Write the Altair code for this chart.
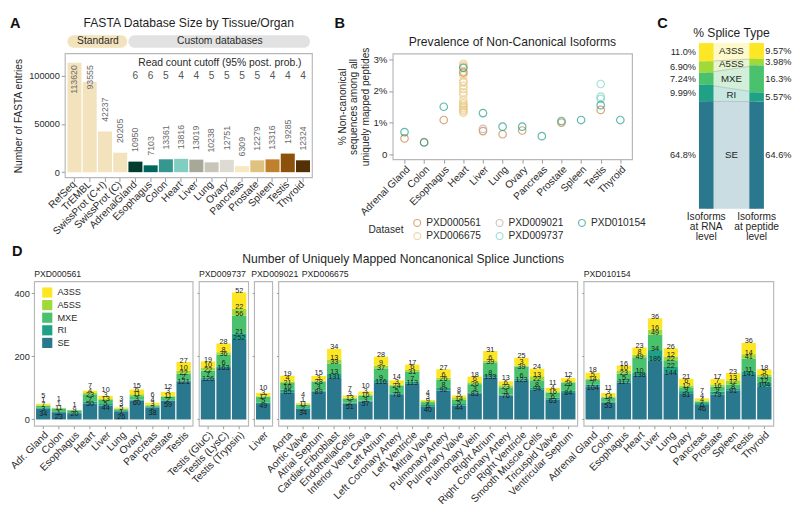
import altair as alt
import numpy as np
import pandas as pd

FONT = "Liberation Sans"
INK = "#1f1f1f"
FRAME = "#B8B8B8"

# ---------------- Panel A: FASTA database sizes ----------------
a_db = ["RefSeq", "TrEMBL", "SwissProt (C+I)", "SwissProt (C)",
        "AdrenalGland", "Esophagus", "Colon", "Heart", "Liver", "Lung",
        "Ovary", "Pancreas", "Prostate", "Spleen", "Testis", "Thyroid"]
a_entries = [113620, 93555, 42237, 20205, 10950, 7103, 13361, 13816,
             13019, 10238, 12751, 6309, 12279, 13316, 19285, 12324]
a_group = ["Standard"] * 4 + ["Custom databases"] * 12
a_cutoff = [None] * 4 + [6, 6, 5, 4, 4, 5, 5, 5, 5, 4, 4, 4]
a_colors = ["#F3E3BD", "#F3E3BD", "#F3E3BD", "#F3E3BD",
            "#003C30", "#01665E", "#35978F", "#80CDC1", "#A8A898", "#C8C6B8",
            "#DEDCD2", "#F6E8C3", "#DFC27D", "#BF812D", "#8C510A", "#543005"]
a_group_names = ["Standard", "Custom databases"]
a_group_colors = ["#F3E3BD", "#E2E2E2"]
a_title = "FASTA Database Size by Tissue/Organ"
a_cutoff_title = "Read count cutoff (95% post. prob.)"

# ---------------- Panel B: prevalence of non-canonical isoforms ----------------
b_title = "Prevalence of Non-Canonical Isoforms"
b_tissues = ["Adrenal Gland", "Colon", "Esophagus", "Heart", "Liver", "Lung",
             "Ovary", "Pancreas", "Prostate", "Spleen", "Testis", "Thyroid"]
b_datasets = ["PXD000561", "PXD006675", "PXD009021", "PXD009737", "PXD010154"]
b_colors = ["#C8803F", "#E9C983", "#BAA9A9", "#7FD4C7", "#1E9D8C"]
b6675_tissue = ["Heart"] * 19
b6675_pct = [2.86, 2.81, 2.76, 2.62, 2.50, 2.31, 2.27, 2.16, 2.06, 1.96,
             1.88, 1.71, 1.62, 1.57, 1.52, 1.46, 1.41, 1.36, 1.31]
b561_tissue = ["Adrenal Gland", "Colon", "Esophagus", "Heart", "Liver", "Lung",
               "Ovary", "Prostate", "Testis"]
b561_pct = [0.50, 0.38, 1.08, 2.58, 0.73, 0.63, 0.75, 1.00, 1.40]
b9021_tissue = ["Liver"]
b9021_pct = [0.80]
b9737_tissue = ["Testis", "Testis", "Testis"]
b9737_pct = [2.22, 1.82, 1.75]
b10154_tissue = list(b_tissues)
b10154_pct = [0.70, 0.37, 1.50, 2.73, 1.30, 0.87, 0.87, 0.57, 1.05, 1.08, 1.55, 1.08]

# ---------------- Panel C: splice type shares ----------------
c_title = "% Splice Type"
c_types = ["A3SS", "A5SS", "MXE", "RI", "SE"]
c_levels = ["Isoforms at RNA level", "Isoforms at peptide level"]
c_level_text = ["Isoforms\nat RNA\nlevel", "Isoforms\nat peptide\nlevel"]
c_rna = [11.0, 6.90, 7.24, 9.99, 64.8]
c_peptide = [9.57, 3.98, 16.3, 5.57, 64.6]

# ---------------- Panel D: uniquely mapped noncanonical junctions ----------------
d_title = "Number of Uniquely Mapped Noncanonical Splice Junctions"
d_types = ["A3SS", "A5SS", "MXE", "RI", "SE"]
d_colors = ["#FDE725", "#9FDA3A", "#4AC16D", "#1FA187", "#2A788E"]

d561_tissue = ["Adr. Gland", "Colon", "Esophagus", "Heart", "Liver", "Lung",
               "Ovary", "Pancreas", "Prostate", "Testis"]
d561_A3SS = [5, 1, 0, 7, 10, 3, 15, 6, 12, 27]
d561_A5SS = [1, 1, 1, 4, 3, 3, 6, 4, 3, 10]
d561_MXE = [7, 11, 9, 23, 13, 5, 11, 3, 11, 22]
d561_RI = [3, 1, 0, 7, 5, 1, 3, 2, 2, 2]
d561_SE = [34, 23, 20, 50, 44, 26, 60, 38, 59, 121]

d9737_tissue = ["Testis (GluC)", "Testis (LysC)", "Testis (Trypsin)"]
d9737_A3SS = [19, 28, 52]
d9737_A5SS = [10, 8, 22]
d9737_MXE = [22, 36, 56]
d9737_RI = [7, 6, 21]
d9737_SE = [126, 163, 252]

d9021_tissue = ["Liver"]
d9021_A3SS = [10]
d9021_A5SS = [3]
d9021_MXE = [17]
d9021_RI = [5]
d9021_SE = [49]

d6675_tissue = ["Aorta", "Aortic Valve", "Atrial Septum", "Cardiac Fibroblast",
                "EndothelialCells", "Inferior Vena Cava", "Left Atrium",
                "Left Coronary Artery", "Left Ventricle", "Mitral Valve",
                "Pulmonary Artery", "Pulmonary Valve", "Pulmonary Vein",
                "Right Atrium", "Right Coronary Artery", "Right Ventricle",
                "Smooth Muscle Cells", "Tricuspid Valve", "Ventricular Septum"]
d6675_A3SS = [19, 4, 15, 34, 7, 10, 28, 14, 17, 4, 27, 8, 18, 31, 13, 25, 24, 11, 12]
d6675_A5SS = [4, 1, 3, 13, 3, 3, 9, 3, 6, 3, 6, 5, 6, 6, 6, 3, 13, 4, 2]
d6675_MXE = [21, 11, 28, 33, 13, 16, 37, 24, 31, 9, 26, 14, 26, 39, 23, 39, 22, 16, 26]
d6675_RI = [10, 2, 3, 13, 2, 3, 9, 5, 7, 6, 8, 5, 3, 8, 3, 6, 8, 6, 7]
d6675_SE = [85, 34, 89, 131, 51, 57, 116, 78, 113, 40, 92, 44, 83, 133, 76, 123, 94, 63, 84]

d10154_tissue = ["Adrenal Gland", "Colon", "Esophagus", "Heart", "Liver", "Lung",
                 "Ovary", "Pancreas", "Prostate", "Spleen", "Testis", "Thyroid"]
d10154_A3SS = [18, 11, 16, 23, 36, 26, 21, 7, 17, 23, 36, 18]
d10154_A5SS = [5, 3, 10, 8, 16, 12, 6, 4, 7, 13, 14, 5]
d10154_MXE = [14, 14, 23, 49, 49, 22, 12, 4, 16, 12, 41, 20]
d10154_RI = [7, 3, 5, 10, 34, 22, 9, 6, 9, 8, 11, 12]
d10154_SE = [104, 53, 117, 138, 186, 144, 81, 46, 79, 91, 141, 104]


# ======================= helpers =======================
def letter(ch, x, y):
    return alt.Chart(pd.DataFrame({"t": [ch]})).mark_text(
        fontSize=15, fontWeight="bold", align="left", baseline="top", color="#111111"
    ).encode(x=alt.value(x), y=alt.value(y), text="t:N")


def label(txt, x, y, size, align="center", color=INK):
    return alt.Chart(pd.DataFrame({"t": [txt]})).mark_text(
        fontSize=size, align=align, baseline="middle", color=color
    ).encode(x=alt.value(x), y=alt.value(y), text="t:N")


def spacer(x):
    # invisible layout guard so the concat gap matches the reference
    return alt.Chart(pd.DataFrame({"t": [0]})).mark_rule(opacity=0, strokeWidth=0.1).encode(
        x=alt.value(x), y=alt.value(0), y2=alt.value(1))


TOP = -38  # top of the panel letters relative to the plot area

# ======================= Panel A =======================
A_OFF = 32               # plot frame starts this far right of the view origin (aligns with panel D)
A_W, A_H = 255, 128
dfa = pd.DataFrame({"db": a_db, "n": a_entries, "group": a_group, "cutoff": a_cutoff})
xa_scale = alt.Scale(domain=a_db, range=[A_OFF, A_OFF + A_W], paddingInner=0.08, paddingOuter=0.15)
xa = alt.X("db:N", scale=xa_scale,
           axis=alt.Axis(title=None, labelAngle=-45, labelFontSize=10.5, tickSize=4, labelPadding=1))
ya = alt.Y("n:Q", scale=alt.Scale(domain=[-5700, 123000], nice=False, zero=False),
           axis=alt.Axis(title="Number of FASTA entries", values=[0, 25000, 50000, 75000, 100000],
                         format="d", labelFontSize=9.5, titleFontSize=10.5, tickSize=4,
                         labelPadding=2, titlePadding=5, offset=-A_OFF))

a_frame = alt.Chart(pd.DataFrame({"t": [0]})).mark_rect(
    filled=False, color=FRAME, strokeWidth=1.2
).encode(x=alt.value(A_OFF), x2=alt.value(A_OFF + A_W), y=alt.value(0), y2=alt.value(A_H))
a_bars = alt.Chart(dfa).mark_bar().encode(
    x=xa, y=ya,
    color=alt.Color("db:N", scale=alt.Scale(domain=a_db, range=a_colors), legend=None))
a_lab_low = alt.Chart(dfa).transform_filter("datum.n < 60000").mark_text(
    angle=270, align="left", baseline="middle", dx=10, fontSize=9, color="#6a6a6a"
).encode(x=alt.X("db:N", scale=xa_scale), y="n:Q", text=alt.Text("n:Q", format="d"))
a_lab_high = alt.Chart(dfa).transform_filter("datum.n >= 60000").mark_text(
    angle=270, align="right", baseline="middle", fontSize=9, color="#6a6a6a"
).encode(x=alt.X("db:N", scale=xa_scale), y=alt.value(12), text=alt.Text("n:Q", format="d"))
a_cut = alt.Chart(dfa).transform_filter("isValid(datum.cutoff)").mark_text(
    fontSize=10.5, baseline="middle", color="#555555"
).encode(x=alt.X("db:N", scale=xa_scale), y=alt.value(23), text=alt.Text("cutoff:Q", format="d"))

pill_rows = []
for g in a_group_names:
    members = [d for d, gg in zip(a_db, a_group) if gg == g]
    pill_rows.append({"group": g, "start": members[0], "end": members[-1],
                      "mid": members[len(members) // 2]})
pill_df = pd.DataFrame(pill_rows)
a_pills = alt.Chart(pill_df).mark_rect(cornerRadius=7).encode(
    x=alt.X("start:N", scale=xa_scale, bandPosition=0),
    x2=alt.X2("end:N", bandPosition=1),
    y=alt.value(-19), y2=alt.value(-6),
    color=alt.Color("group:N", scale=alt.Scale(domain=a_group_names, range=a_group_colors), legend=None))
a_pill_text = alt.Chart(pill_df).mark_text(fontSize=10.6, baseline="middle", color="#2a2a2a").encode(
    x=alt.X("mid:N", scale=xa_scale, bandPosition=0), y=alt.value(-12.5), text="group:N")
cut_df = pd.DataFrame({"t": [a_cutoff_title], "mid": [pill_rows[1]["mid"]]})
a_cut_title = alt.Chart(cut_df).mark_text(fontSize=10.7, baseline="middle", color="#2a2a2a").encode(
    x=alt.X("mid:N", scale=xa_scale, bandPosition=0), y=alt.value(10), text="t:N")

chart_a = alt.layer(
    a_pills, a_bars, a_lab_low, a_lab_high, a_cut, a_pill_text, a_cut_title, a_frame,
    label(a_title, A_OFF + A_W / 2, -31, 12.5), letter("A", A_OFF - 57, TOP)
).resolve_scale(color="independent").properties(
    width=A_OFF + A_W, height=A_H, view=alt.ViewBackground(stroke=None))

# ======================= Panel B =======================
B_W, B_H = 247, 109
b_rows = []
for ds, ts, ps in [("PXD006675", b6675_tissue, b6675_pct), ("PXD000561", b561_tissue, b561_pct),
                   ("PXD009021", b9021_tissue, b9021_pct), ("PXD009737", b9737_tissue, b9737_pct),
                   ("PXD010154", b10154_tissue, b10154_pct)]:
    for t, p in zip(ts, ps):
        b_rows.append({"dataset": ds, "tissue": t, "pct": p})
dfb = pd.DataFrame(b_rows)
b_color_of = dict(zip(b_datasets, b_colors))
b_legend_order = ["PXD000561", "PXD009021", "PXD010154", "PXD006675", "PXD009737"]

b_points = alt.Chart(dfb).mark_point(shape="circle", filled=False, size=60, strokeWidth=1.2).encode(
    x=alt.X("tissue:N", scale=alt.Scale(type="point", domain=b_tissues, padding=0.6),
            axis=alt.Axis(title=None, labelAngle=-45, labelFontSize=10.5, tickSize=4, labelPadding=1)),
    y=alt.Y("pct:Q", scale=alt.Scale(domain=[-0.16, 3.18], nice=False, zero=False),
            axis=alt.Axis(title=["% Non-canonical", "sequences among all", "uniquely mapped peptides"],
                          values=[0, 1, 2, 3], labelExpr="datum.value == 0 ? '0' : datum.value + '%'",
                          labelFontSize=10, titleFontSize=10.5, titleLineHeight=11.5,
                          tickSize=4, labelPadding=2, titlePadding=3)),
    color=alt.Color("dataset:N",
                    scale=alt.Scale(domain=b_legend_order, range=[b_color_of[d] for d in b_legend_order]),
                    legend=alt.Legend(title="Dataset", orient="none", legendX=-25, legendY=B_H + 60,
                                      direction="horizontal", columns=3, titleOrient="left",
                                      titleAnchor="middle", titleBaseline="middle",
                                      titleFontSize=10.5, titleFontWeight="normal", titlePadding=8,
                                      labelFontSize=10.5, symbolSize=50, symbolStrokeWidth=1.2,
                                      columnPadding=12, rowPadding=1, labelOffset=4)))

chart_b = alt.layer(
    b_points, label(b_title, B_W / 2, -12, 12.5), letter("B", -60, TOP), spacer(-71)
).properties(width=B_W, height=B_H)

# ======================= Panel C =======================
C_W, C_H = 67, 160
C_TOPPX = -11            # where 100 % lies (the bars start above the aligned plot top)
c_order = {"SE": 0, "RI": 1, "MXE": 2, "A5SS": 3, "A3SS": 4}
c_rows = []
for lvl, txt, vals in [(c_levels[0], c_level_text[0], c_rna), (c_levels[1], c_level_text[1], c_peptide)]:
    for t, v in zip(c_types, vals):
        c_rows.append({"level": lvl, "ltext": txt, "type": t, "pct": v, "ord": c_order[t]})
dfc = pd.DataFrame(c_rows)
xc = alt.X("level:N", scale=alt.Scale(type="point", domain=c_levels, padding=0.144), axis=None)
yc_scale = alt.Scale(domain=[0, 100], nice=False, zero=False, range=[C_H, C_TOPPX])
c_color = alt.Color("type:N", scale=alt.Scale(domain=d_types, range=d_colors), legend=None)

c_base = alt.Chart(dfc).transform_stack(
    stack="pct", groupby=["level"], as_=["y0", "y1"], sort=[alt.SortField("ord", order="ascending")]
).transform_calculate(
    mid="(datum.y0 + datum.y1) / 2",
    lab="format(datum.pct, '.3r') + '%'"
)
c_area = c_base.mark_area(opacity=0.25).encode(
    x=xc, y=alt.Y("y0:Q", scale=yc_scale, axis=None), y2="y1:Q", color=c_color, detail="type:N")
c_edges = c_base.transform_filter(alt.datum.type != "A3SS").mark_line(
    color="#b5b5b5", strokeWidth=0.7
).encode(x=xc, y=alt.Y("y1:Q", scale=yc_scale, axis=None), detail="type:N")
c_bars = c_base.mark_bar(width=15).encode(
    x=xc, y=alt.Y("y0:Q", scale=yc_scale, axis=None), y2="y1:Q", color=c_color)
c_lab_left = c_base.transform_filter(alt.datum.level == c_levels[0]).mark_text(
    align="right", baseline="middle", dx=-10.5, fontSize=9.5, color=INK
).encode(x=xc, y=alt.Y("mid:Q", scale=yc_scale), text="lab:N")
c_lab_right = c_base.transform_filter(alt.datum.level == c_levels[1]).mark_text(
    align="left", baseline="middle", dx=9, fontSize=9.5, color=INK
).encode(x=xc, y=alt.Y("mid:Q", scale=yc_scale), text="lab:N")
c_mid = c_base.transform_joinaggregate(
    ymid="mean(mid)", groupby=["type"]
).transform_filter(alt.datum.level == c_levels[0]).mark_text(
    baseline="middle", fontSize=10, color=INK
).encode(x=alt.value(C_W / 2), y=alt.Y("ymid:Q", scale=yc_scale), text="type:N")
c_levels_txt = alt.Chart(dfc).transform_filter(alt.datum.type == "SE").mark_text(
    baseline="top", lineBreak="\n", lineHeight=10, fontSize=10.5, color=INK
).encode(x=xc, y=alt.value(C_H + 4), text="ltext:N")

chart_c = alt.layer(
    c_area, c_edges, c_bars, c_lab_left, c_lab_right, c_mid, c_levels_txt,
    label(c_title, C_W / 2, -21, 12.5), letter("C", -43, TOP)
).properties(width=C_W, height=C_H, view=alt.ViewBackground(stroke=None))

# ======================= Panel D =======================
D_H = 149
D_DOM = [-20, 438]
D_STEP = 16.1
D_PI, D_PO = 0.08, 0.12
D_GAP = 6
D_ORDER = ["SE", "RI", "MXE", "A5SS", "A3SS"]          # bottom to top
D_SEP = 4.6 * (D_DOM[1] - D_DOM[0]) / D_H              # label spacing in data units
D_LIFT = 1.5 * (D_DOM[1] - D_DOM[0]) / D_H


def repel(ideal, sep):
    # 1-D non-overlap (pool adjacent violators), keeps order, min spacing sep
    z = [v - sep * i for i, v in enumerate(ideal)]
    blocks = []
    for v in z:
        blocks.append([v, 1])
        while len(blocks) > 1 and blocks[-2][0] / blocks[-2][1] > blocks[-1][0] / blocks[-1][1]:
            s, c = blocks.pop()
            blocks[-1][0] += s
            blocks[-1][1] += c
    out = []
    for s, c in blocks:
        out += [s / c] * c
    return [o + sep * i for i, o in enumerate(out)]


def d_frame(tissues, series):
    rows = []
    for i, t in enumerate(tissues):
        vals = [series[k][i] for k in D_ORDER]
        cum = np.cumsum(vals)
        nz = [j for j, v in enumerate(vals) if v > 0]
        pos = repel([float(cum[j]) + D_LIFT for j in nz], D_SEP)
        lab = dict(zip(nz, pos))
        for j, k in enumerate(D_ORDER):
            rows.append({"tissue": t, "type": k, "n": int(vals[j]), "ord": j,
                         "ly": lab.get(j, 0.0)})
    return pd.DataFrame(rows)


d_specs = [
    ("PXD000561", d561_tissue, {"A3SS": d561_A3SS, "A5SS": d561_A5SS, "MXE": d561_MXE, "RI": d561_RI, "SE": d561_SE}, 0),
    ("PXD009737", d9737_tissue, {"A3SS": d9737_A3SS, "A5SS": d9737_A5SS, "MXE": d9737_MXE, "RI": d9737_RI, "SE": d9737_SE}, 0),
    ("PXD009021", d9021_tissue, {"A3SS": d9021_A3SS, "A5SS": d9021_A5SS, "MXE": d9021_MXE, "RI": d9021_RI, "SE": d9021_SE}, -3),
    ("PXD006675", d6675_tissue, {"A3SS": d6675_A3SS, "A5SS": d6675_A5SS, "MXE": d6675_MXE, "RI": d6675_RI, "SE": d6675_SE}, 24),
    ("PXD010154", d10154_tissue, {"A3SS": d10154_A3SS, "A5SS": d10154_A5SS, "MXE": d10154_MXE, "RI": d10154_RI, "SE": d10154_SE}, 0),
]
d_widths = [D_STEP * (len(s[1]) - D_PI + 2 * D_PO) for s in d_specs]
d_total = sum(d_widths) + D_GAP * (len(d_specs) - 1)

d_charts = []
for idx, ((name, tissues, series, tdx), w) in enumerate(zip(d_specs, d_widths)):
    first = idx == 0
    df = d_frame(tissues, series)
    xs = alt.Scale(domain=tissues, paddingInner=D_PI, paddingOuter=D_PO)
    if first:
        yaxis = alt.Axis(title=None, values=[0, 100, 200, 300, 400], labelFontSize=9.5,
                         tickSize=3, labelPadding=2)
        leg = alt.Legend(title=None, orient="none", legendX=8, legendY=6, symbolType="square",
                         symbolSize=110, symbolStrokeWidth=0, labelFontSize=9.5, rowPadding=2,
                         labelOffset=5)
    else:
        yaxis = alt.Axis(title=None, values=[0, 100, 200, 300, 400], labels=False, tickSize=2)
        leg = None
    bars = alt.Chart(df).mark_bar().encode(
        x=alt.X("tissue:N", scale=xs,
                axis=alt.Axis(title=None, labelAngle=-45, labelFontSize=10.5, tickSize=3, labelPadding=1)),
        y=alt.Y("n:Q", stack="zero", scale=alt.Scale(domain=D_DOM, nice=False, zero=False), axis=yaxis),
        color=alt.Color("type:N", scale=alt.Scale(domain=d_types, range=d_colors), legend=leg),
        order=alt.Order("ord:Q", sort="ascending"))
    texts = alt.Chart(df).transform_filter("datum.n > 0").mark_text(
        fontSize=7.5, baseline="middle", color="#1a1a1a"
    ).encode(x=alt.X("tissue:N", scale=xs), y=alt.Y("ly:Q"), text=alt.Text("n:Q", format="d"))
    layers = [bars, texts, label(name, tdx, -7, 9, align="left")]
    if first:
        layers += [letter("D", -23, TOP), label(d_title, d_total / 2, -23, 12.5)]
    d_charts.append(alt.layer(*layers).properties(width=w, height=D_H))

top = alt.hconcat(chart_a, chart_b, chart_c, spacing=10).resolve_scale(color="independent")
bottom = alt.hconcat(*d_charts, spacing=D_GAP, bounds="flush").resolve_scale(color="independent")

chart = alt.vconcat(top, bottom, spacing=0, padding=0).resolve_scale(
    color="independent"
).configure(font=FONT).configure_view(
    stroke=FRAME, strokeWidth=1.2
).configure_axis(
    domain=False, grid=False, tickColor="#9a9a9a", labelColor="#2a2a2a",
    titleColor="#2a2a2a", titleFontWeight="normal", labelFont=FONT, titleFont=FONT
).configure_legend(labelFont=FONT, titleFont=FONT, labelColor="#2a2a2a", titleColor="#2a2a2a")

chart.save("out.html", embed_options={"renderer": "svg", "actions": False})
